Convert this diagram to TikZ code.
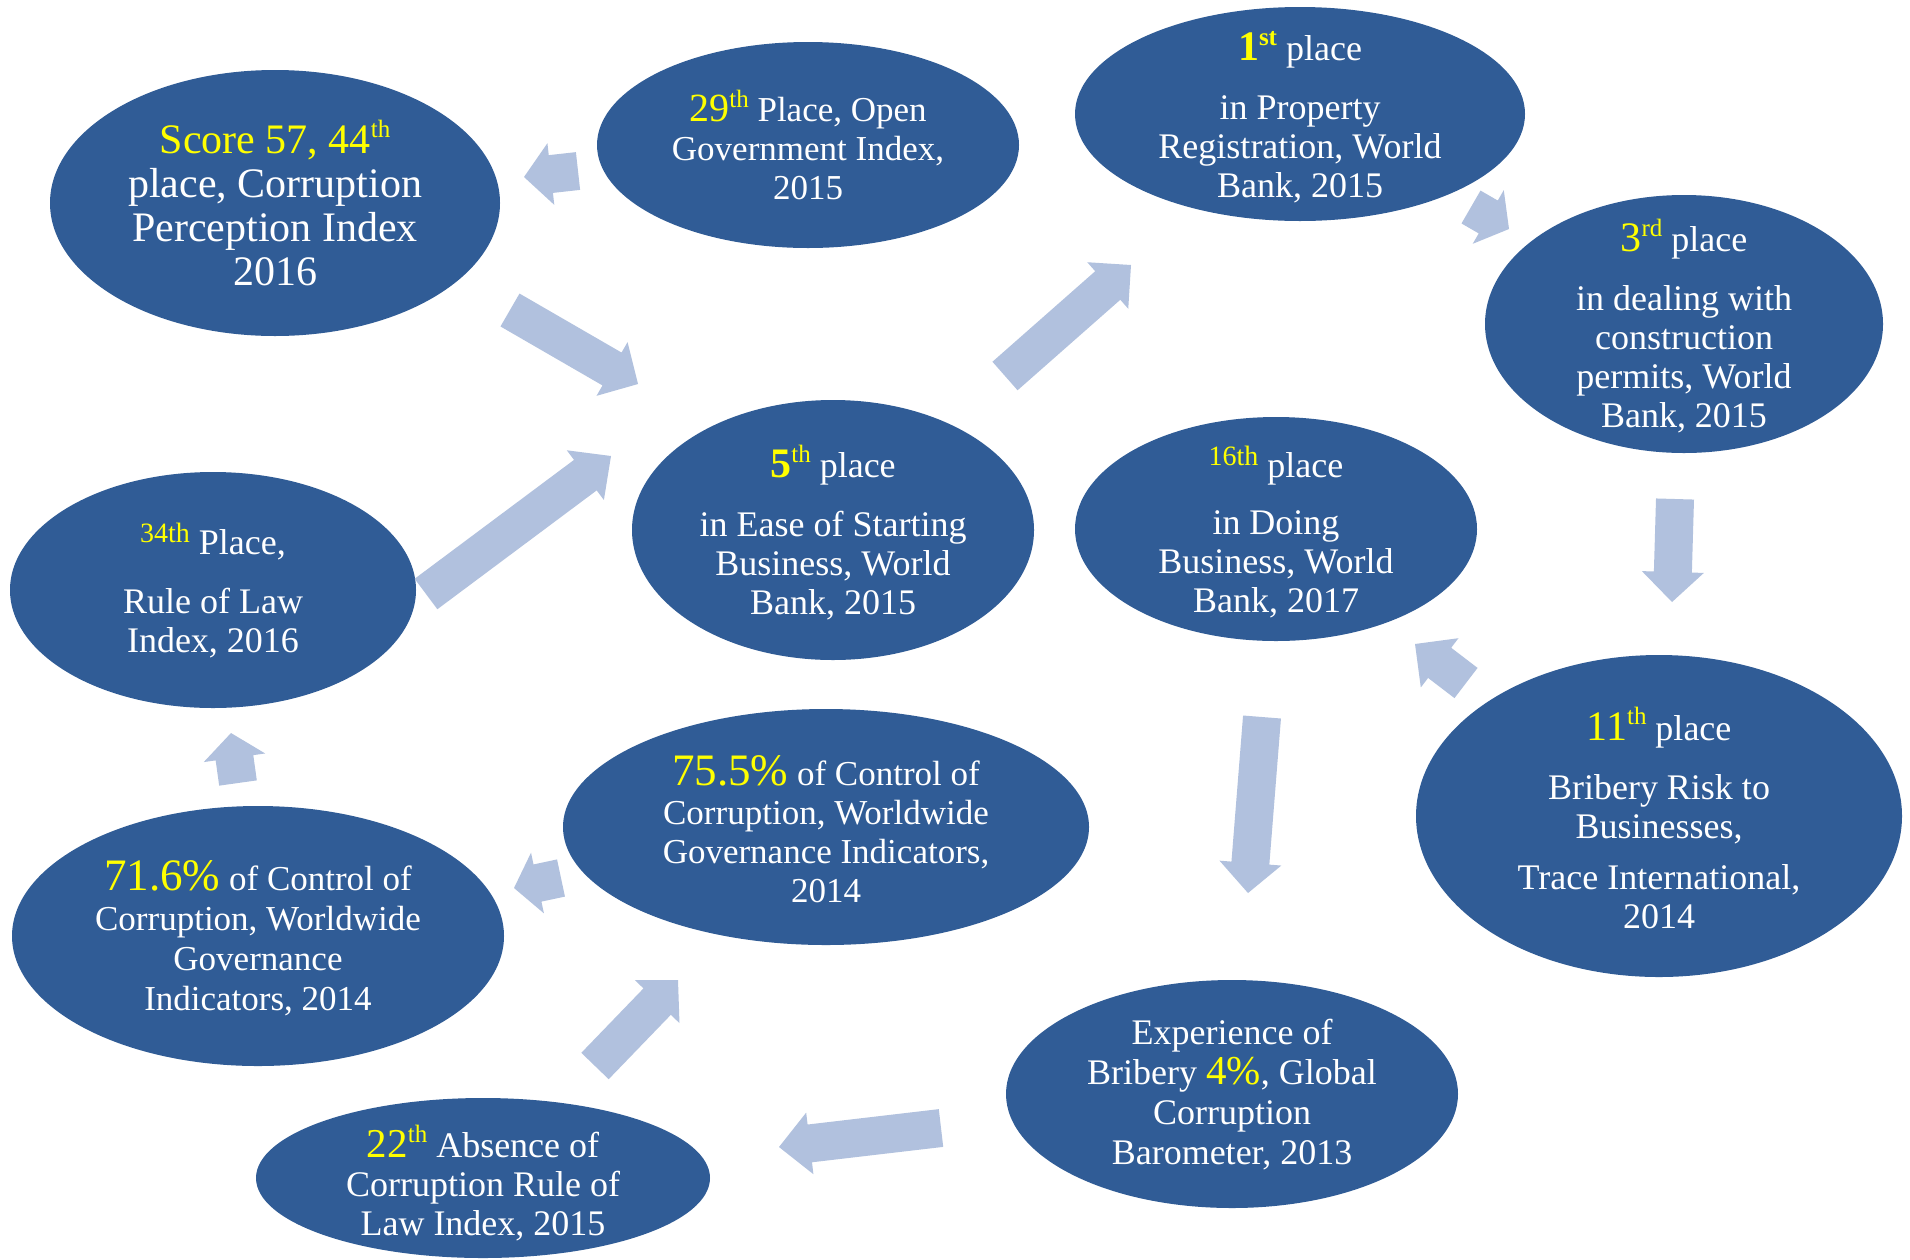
\documentclass[tikz,border=0pt]{standalone}
\usepackage{fontspec}
\setmainfont{Liberation Serif}
\usetikzlibrary{calc}

\definecolor{blobblue}{RGB}{48,92,150}
\definecolor{flowblue}{RGB}{177,193,222}
\definecolor{hiyellow}{RGB}{255,255,0}

% highlighted figures
\newcommand\hi[1]{\textcolor{hiyellow}{#1}}
\newcommand\hibig[2][42]{{\fontsize{#1}{#1}\selectfont\textcolor{hiyellow}{#2}}}
\newcommand\sups[1]{\raisebox{0.36em}{\fontsize{25}{25}\selectfont #1}}
\newcommand\lowrank[1]{\raisebox{12pt}{\fontsize{28}{28}\selectfont\textcolor{hiyellow}{#1}}}

% wide block arrow from tail coordinate #2 to tip coordinate #3, head length #1
\newcommand\blockarrow[3][30pt]{%
  \path ($(#3)!#1!(#2)$) coordinate (hb);
  \fill[flow] ($(#2)!19pt!90:(#3)$) -- ($(hb)!19pt!90:(#3)$) -- ($(hb)!31pt!90:(#3)$)
    -- (#3) -- ($(hb)!31pt!-90:(#3)$) -- ($(hb)!19pt!-90:(#3)$) -- ($(#2)!19pt!-90:(#3)$) -- cycle;}

\tikzset{
  blob/.style={fill=blobblue},
  flow/.style={fill=flowblue},
  blobtext/.style={text=white, align=center, inner sep=0pt,
    font=\fontsize{36}{39}\selectfont},
}

\begin{document}
\lineskiplimit=-100pt
\lineskip=0pt
\begin{tikzpicture}[x=1pt,y=-1pt]
\useasboundingbox (0,0) rectangle (1910,1259);
\fill[white] (0,0) rectangle (1910,1259);

% ---- bubbles ----
\fill[blob] (275,203) ellipse [x radius=225pt, y radius=133pt];
\node[blobtext, font=\fontsize{42}{44}\selectfont] (cpi) at (275,203)
  {\hi{Score 57, 44\sups{th}}\\ place, Corruption\\ Perception Index\\ 2016};

\fill[blob] (808,145) ellipse [x radius=211pt, y radius=103pt];
\node[blobtext, font=\fontsize{35}{39}\selectfont] (opengov) at (808,145)
  {\hibig[40]{29\sups{th}} Place, Open\\ Government Index,\\ 2015};

\fill[blob] (1300,114) ellipse [x radius=225pt, y radius=107pt];
\node[blobtext] (property) at (1300,117)
  {\hibig{\textbf{1}\sups{\textbf{st}}} place\\[20pt] in Property\\ Registration, World\\ Bank, 2015};

\fill[blob] (1684,324) ellipse [x radius=199pt, y radius=129pt];
\node[blobtext] (permits) at (1684,326)
  {\hibig{3\sups{rd}} place\\[20pt] in dealing with\\ construction\\ permits, World\\ Bank, 2015};

\fill[blob] (833,530) ellipse [x radius=201pt, y radius=130pt];
\node[blobtext] (start) at (833,533)
  {\hibig{\textbf{5}\sups{th}} place\\[20pt] in Ease of Starting\\ Business, World\\ Bank, 2015};

\fill[blob] (213,590) ellipse [x radius=203pt, y radius=118pt];
\node[blobtext] (rulelaw) at (213,591)
  {\lowrank{34th} Place,\\[20pt] Rule of Law\\ Index, 2016};

\fill[blob] (1276,529) ellipse [x radius=201pt, y radius=112pt];
\node[blobtext] (doing) at (1276,532)
  {\lowrank{16th} place\\[18pt] in Doing\\ Business, World\\ Bank, 2017};

\fill[blob] (1659,816) ellipse [x radius=243pt, y radius=161pt];
\node[blobtext] (trace) at (1659,818)
  {\hibig{11\sups{th}} place\\[20pt] Bribery Risk to\\ Businesses,\\[12pt] Trace International,\\ 2014};

\fill[blob] (826,827) ellipse [x radius=263pt, y radius=118pt];
\node[blobtext, font=\fontsize{35}{39}\selectfont] (wgia) at (826,829)
  {\hibig[45]{75.5\%} of Control of\\ Corruption, Worldwide\\ Governance Indicators,\\ 2014};

\fill[blob] (258,936) ellipse [x radius=246pt, y radius=130pt];
\node[blobtext, font=\fontsize{35}{40}\selectfont] (wgib) at (258,938)
  {\hibig[45]{71.6\%} of Control of\\ Corruption, Worldwide\\ Governance\\ Indicators, 2014};

\fill[blob] (483,1178) ellipse [x radius=227pt, y radius=80pt];
\node[blobtext] (absence) at (483,1183)
  {\hibig[41]{22\sups{th}} Absence of\\ Corruption Rule of\\ Law Index, 2015};

\fill[blob] (1232,1094) ellipse [x radius=226pt, y radius=114pt];
\node[blobtext, font=\fontsize{36}{40}\selectfont] (gcb) at (1232,1095)
  {Experience of\\ Bribery \hibig[41]{4\%}, Global\\ Corruption\\ Barometer, 2013};

% ---- arrow end points ----
\coordinate (a1) at (578,171);  \coordinate (a2) at (524,177);
\coordinate (b1) at (510,310);  \coordinate (b2) at (638,384);
\coordinate (c1) at (426,594);  \coordinate (c2) at (611,456);
\coordinate (d1) at (1005,376); \coordinate (d2) at (1131,265);
\coordinate (e1) at (1471,207); \coordinate (e2) at (1509,229);
\coordinate (f1) at (1675,499); \coordinate (f2) at (1672,602);
\coordinate (g1) at (1466,683); \coordinate (g2) at (1415,644);
\coordinate (h1) at (1262,717); \coordinate (h2) at (1248,893);
\coordinate (i1) at (941,1128); \coordinate (i2) at (779,1147);
\coordinate (j1) at (595,1066); \coordinate (j2) at (678,980);
\coordinate (k1) at (561,878);  \coordinate (k2) at (514,888);
\coordinate (l1) at (238,783);  \coordinate (l2) at (231,733);

% ---- arrows ----
\blockarrow[27pt]{a1}{a2}
\blockarrow{b1}{b2}
\blockarrow[32pt]{c1}{c2}
\blockarrow[31pt]{d1}{d2}
\blockarrow[24pt]{e1}{e2}
\blockarrow{f1}{f2}
\blockarrow[31pt]{g1}{g2}
\blockarrow{h1}{h2}
\blockarrow[31pt]{i1}{i2}
\blockarrow{j1}{j2}
\blockarrow[24pt]{k1}{k2}
\blockarrow[25pt]{l1}{l2}
\end{tikzpicture}
\end{document}
